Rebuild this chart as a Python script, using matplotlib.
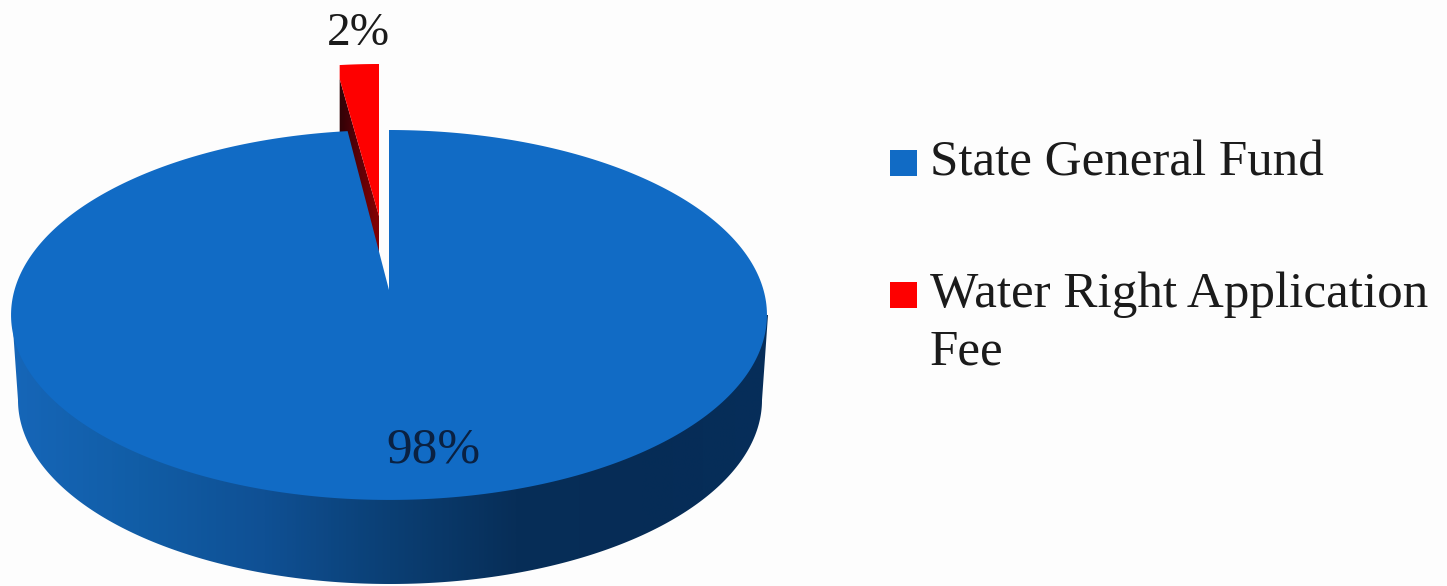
import numpy as np
import matplotlib
matplotlib.use("Agg")
import matplotlib.pyplot as plt
from matplotlib.colors import LinearSegmentedColormap
from matplotlib.patches import Polygon, Rectangle

# Data
categories = ["State General Fund", "Water Right Application\nFee"]
shares = [98, 2]
value_labels = ["98%", "2%"]

# Colours
BLUE = "#116bc5"
RED = "#fe0000"
INK = "#1b1b1b"
SIDE_STOPS = ["#1666b8", "#115da6", "#0f5094", "#0b3f74", "#072e58", "#062c56", "#062e5a"]
RED_SIDE_STOPS = ["#260306", "#5a0008", "#8c0000"]

# Perspective view of the pie disc, in pixel units
APEX = np.array([389.0, 290.0])
DISC_A, DISC_B, TILT = 374.5, 181.6, 0.135
EXPLODE = np.array([-10.0, -74.0])
RED_SCALE = 0.95
RED_BEVEL = 14.0
DEPTH_LIFT = 70.0
FOOT_CENTRE = (390.0, 400.0)
FOOT_A, FOOT_B = 372.0, 184.0
RIM_CENTRE = (390.0, 315.0)
RIM_A = 378.0


def project(angle):
    """Map clockwise angles from the back of the disc onto the tilted rim."""
    u, v = np.sin(angle), np.cos(angle)
    w = 1 + TILT * v
    return np.column_stack((APEX[0] + DISC_A * u / w, APEX[1] - DISC_B * v / w))


def wedge_angles(start_share, end_share, n=400):
    return np.linspace(start_share, end_share, n) / sum(shares) * 2 * np.pi


fig = plt.figure(figsize=(14.47, 5.86), dpi=100, facecolor="#fdfdfd")
ax = fig.add_axes([0, 0, 1, 1])
ax.set_xlim(0, 1447)
ax.set_ylim(586, 0)
ax.axis("off")


def gradient_fill(vertices, stops, x0, x1, y0, y1, z):
    cmap = LinearSegmentedColormap.from_list("shade", stops)
    patch = Polygon(vertices, closed=True, fc="none", ec="none", transform=ax.transData)
    ax.add_patch(patch)
    img = ax.imshow(np.linspace(0, 1, 512)[None, :], cmap=cmap, aspect="auto",
                    extent=(x0, x1, y1, y0), zorder=z, interpolation="bilinear")
    img.set_clip_path(patch)


# Blue wall below the disc: rim outline joined with the lower foot ellipse
rim_left_right = np.linspace(np.pi, 2 * np.pi, 300)
foot_right_left = np.linspace(2 * np.pi, np.pi, 300)
wall = np.vstack((
    np.column_stack((RIM_CENTRE[0] + RIM_A * np.cos(rim_left_right), RIM_CENTRE[1] + 0 * rim_left_right)),
    np.column_stack((FOOT_CENTRE[0] + FOOT_A * np.cos(foot_right_left),
                     FOOT_CENTRE[1] - FOOT_B * np.sin(foot_right_left))),
))
gradient_fill(wall, SIDE_STOPS, 12, 768, 300, 590, 1)

# Pulled-out wedge: top face with a small bevel, dark flank beneath it
red_edge = APEX + RED_SCALE * (project(wedge_angles(-shares[1], 0)) - APEX)
red_top = np.vstack((APEX, red_edge)) + EXPLODE
left_corner = red_top[1]
tip = red_top[0]
bevel_corner = left_corner + [0, RED_BEVEL]
flank = np.vstack((bevel_corner, tip, tip + [0, DEPTH_LIFT], left_corner + [0, DEPTH_LIFT]))
gradient_fill(flank, RED_SIDE_STOPS, 335, 382, 60, 300, 2)
ax.add_patch(Polygon(np.vstack((bevel_corner, red_top[1:], tip)), closed=True,
                     fc=RED, ec="none", zorder=3))

# Main slice top face
blue_edge = project(wedge_angles(0, shares[0]))
ax.add_patch(Polygon(np.vstack((APEX, blue_edge)), closed=True, fc=BLUE, ec="none", zorder=4))

# Value labels
ax.text(433, 450, value_labels[0], fontsize=37, family="Liberation Serif",
        color="#0a2142", ha="center", va="center", zorder=5)
ax.text(358, 34, value_labels[1], fontsize=34, family="Liberation Serif",
        color=INK, ha="center", va="center", zorder=5)

# Key
key_colors = [BLUE, RED]
key_y = [163, 295]
for name, colour, y in zip(categories, key_colors, key_y):
    ax.add_patch(Rectangle((890, y - 13), 27, 26, fc=colour, ec="none", zorder=5))
    ax.text(930, y - 23, name, fontsize=36.8, family="Liberation Serif", color=INK,
            ha="left", va="top", linespacing=1.29, zorder=5)

fig.savefig("out.png", dpi=100, facecolor=fig.get_facecolor())
